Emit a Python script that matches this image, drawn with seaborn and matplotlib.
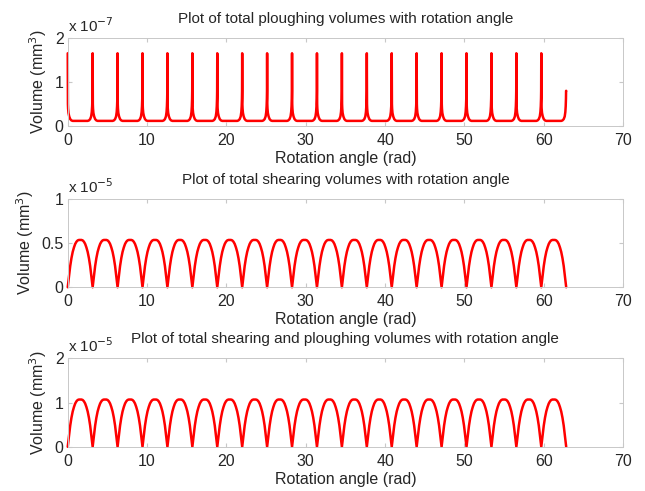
import numpy as np
import matplotlib
matplotlib.use("Agg")
import matplotlib.pyplot as plt
import seaborn as sns

# one rotation period (pi rad) repeated 20 times up to ~62.8 rad
n_cycles = 20
period = np.pi

# ploughing volume over one period, x 1e-7 mm^3
plough_phase = [0, 0.004, 0.008, 0.015, 0.03, 0.06, 0.1, 0.15, 0.2, 0.5, 0.8, 0.85, 0.9,
                0.94, 0.965, 0.98, 0.99, 0.995]
plough_vals = [1.65, 0.75, 0.5, 0.4, 0.3, 0.22, 0.16, 0.13, 0.12, 0.12, 0.12, 0.13, 0.16,
               0.22, 0.32, 0.45, 0.62, 0.8]
plough_end = 0.8

# shearing volume over one period, x 1e-5 mm^3
arch_phase = [0, 0.05, 0.1, 0.15, 0.2, 0.25, 0.3, 0.35, 0.4, 0.45, 0.5,
              0.55, 0.6, 0.65, 0.7, 0.75, 0.8, 0.85, 0.9, 0.95]
shear_vals = [0, 0.12, 0.24, 0.33, 0.40, 0.45, 0.49, 0.515, 0.53, 0.535, 0.535,
              0.535, 0.53, 0.515, 0.49, 0.45, 0.40, 0.33, 0.24, 0.12]
# shearing + ploughing, x 1e-5 mm^3
total_vals = [0, 0.25, 0.48, 0.66, 0.80, 0.90, 0.98, 1.03, 1.06, 1.07, 1.07,
              1.07, 1.06, 1.03, 0.98, 0.90, 0.80, 0.66, 0.48, 0.25]
arch_end = 0

titles = ["Plot of total ploughing volumes with rotation angle",
          "Plot of total shearing volumes with rotation angle",
          "Plot of total shearing and ploughing volumes with rotation angle"]
exponents = ["-7", "-5", "-5"]
ylims = [2, 1, 2]
yticks = [[0, 1, 2], [0, 0.5, 1], [0, 1, 2]]
ytick_labels = [["0", "1", "2"], ["0", "0.5", "1"], ["0", "1", "2"]]
xticks = [0, 10, 20, 30, 40, 50, 60, 70]


def build(phase, vals, end):
    x, y = [], []
    for k in range(n_cycles):
        x += [(k + p) * period for p in phase]
        y += list(vals)
    x.append(n_cycles * period)
    y.append(end)
    return np.array(x), np.array(y)


series = [build(plough_phase, plough_vals, plough_end),
          build(arch_phase, shear_vals, arch_end),
          build(arch_phase, total_vals, arch_end)]

sns.set_style("ticks")
plt.rcParams["font.family"] = ["Liberation Sans", "DejaVu Sans"]
plt.rcParams["font.size"] = 11
plt.rcParams["axes.edgecolor"] = "#c8c8c8"
plt.rcParams["xtick.direction"] = "in"
plt.rcParams["ytick.direction"] = "in"

fig = plt.figure(figsize=(6.45, 4.91), dpi=100)
bottoms = [0.743, 0.415, 0.090]
for i in range(3):
    ax = fig.add_axes([0.105, bottoms[i], 0.861, 0.180])
    x, y = series[i]
    sns.lineplot(x=x, y=y, ax=ax, color="red", linewidth=1.8, estimator=None, sort=False)
    for ln in ax.lines:
        ln.set_clip_on(False)
    ax.set_xlim(0, 70)
    ax.set_ylim(0, ylims[i])
    ax.set_xticks(xticks)
    ax.set_yticks(yticks[i])
    ax.set_yticklabels(ytick_labels[i])
    ax.tick_params(axis="both", which="both", top=True, right=True, length=3,
                   color="#c8c8c8", labelcolor="#262626", labelsize=11.5)
    ax.tick_params(axis="x", pad=5)
    ax.tick_params(axis="y", pad=3)
    for s in ax.spines.values():
        s.set_linewidth(0.7)
    ax.set_title(titles[i], fontsize=11, color="#262626", pad=11)
    ax.set_xlabel("Rotation angle (rad)", fontsize=11.5, color="#262626", labelpad=2)
    ax.set_ylabel("Volume (mm$^3$)", fontsize=11.5, color="#262626", labelpad=4)
    ax.text(0.0, 1.035, "x 10$^{" + exponents[i] + "}$", transform=ax.transAxes,
            ha="left", va="bottom", fontsize=11, color="#262626")

fig.savefig("out.png", dpi=100)
